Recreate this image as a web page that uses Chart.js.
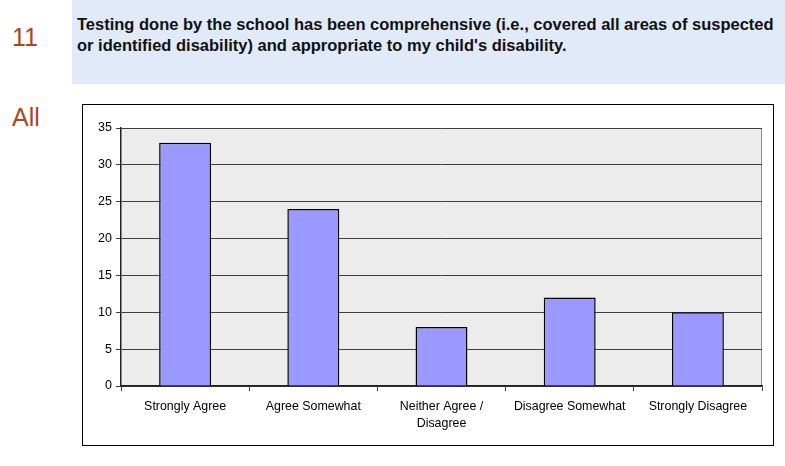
<!DOCTYPE html>
<html>
<head>
<meta charset="utf-8">
<script src="https://cdn.jsdelivr.net/npm/chart.js@4/dist/chart.umd.min.js"></script>
<style>
  html, body { margin: 0; padding: 0; background: #ffffff; width: 785px; height: 466px; overflow: hidden; font-family: "Liberation Sans", Arial, sans-serif; }
  #hdr { position: absolute; left: 72px; top: 0px; width: 713px; height: 84px; background: #e1eaf8; }
  #q { position: absolute; left: 77px; top: 14px; width: 708px; font-weight: bold; font-size: 16.5px; line-height: 21px; color: #111; white-space: nowrap; }
  .num { position: absolute; left: 12px; color: #b0451a; font-size: 25px; line-height: 28px; }
  #box { position: absolute; left: 82px; top: 104px; width: 690px; height: 340px; border: 1px solid #000; }
  canvas { display: block; }
</style>
</head>
<body>
<div id="hdr"></div>
<div id="q">Testing done by the school has been comprehensive (i.e., covered all areas of suspected<br>or identified disability) and appropriate to my child's disability.</div>
<div class="num" style="top:23px;">11</div>
<div class="num" style="top:103px;">All</div>
<div id="box"><canvas id="c" width="690" height="340"></canvas></div>
<script>
const categories = ["Strongly Agree", "Agree Somewhat", ["Neither Agree /", "Disagree"], "Disagree Somewhat", "Strongly Disagree"];
const counts = [33, 24, 8, 12, 10];
const yTicks = [0, 5, 10, 15, 20, 25, 30, 35];

const plotBg = {
  id: 'plotBg',
  beforeDraw(chart) {
    const { ctx, chartArea: a } = chart;
    ctx.save();
    ctx.fillStyle = '#ececec';
    ctx.fillRect(a.left, a.top, a.right - a.left, a.bottom - a.top);
    ctx.strokeStyle = '#8c8c8c';
    ctx.lineWidth = 1;
    ctx.beginPath();
    ctx.moveTo(a.left, a.top + 0.5);
    ctx.lineTo(a.right - 0.5, a.top + 0.5);
    ctx.lineTo(a.right - 0.5, a.bottom);
    ctx.stroke();
    ctx.restore();
  }
};

new Chart(document.getElementById('c'), {
  type: 'bar',
  data: {
    labels: categories,
    datasets: [{
      data: counts,
      backgroundColor: '#9999ff',
      borderColor: '#000000',
      borderWidth: 1.5,
      barPercentage: 0.81,
      categoryPercentage: 0.5
    }]
  },
  options: {
    responsive: false,
    animation: false,
    events: [],
    layout: { padding: { left: 0, right: 11, top: 23, bottom: 0 } },
    plugins: { legend: { display: false }, tooltip: { enabled: false } },
    scales: {
      x: {
        offset: true,
        grid: { offset: true, drawOnChartArea: false, color: '#444', tickLength: 5 },
        border: { color: '#222', width: 1.5 },
        ticks: { color: '#000', font: { family: 'Liberation Sans, Arial', size: 12.4, lineHeight: 1.3 }, maxRotation: 0, autoSkip: false, padding: 8 },
        afterFit(s) { s.height = 59; }
      },
      y: {
        min: 0, max: 35,
        afterBuildTicks(s) { s.ticks = yTicks.map(v => ({ value: v })); },
        grid: { color: '#404040', tickLength: 5 },
        border: { color: '#222', width: 1.5 },
        ticks: { color: '#000', font: { family: 'Liberation Sans, Arial', size: 12.5 }, padding: 4 },
        afterFit(s) { s.width = 38; }
      }
    }
  },
  plugins: [plotBg]
});
</script>
</body>
</html>
